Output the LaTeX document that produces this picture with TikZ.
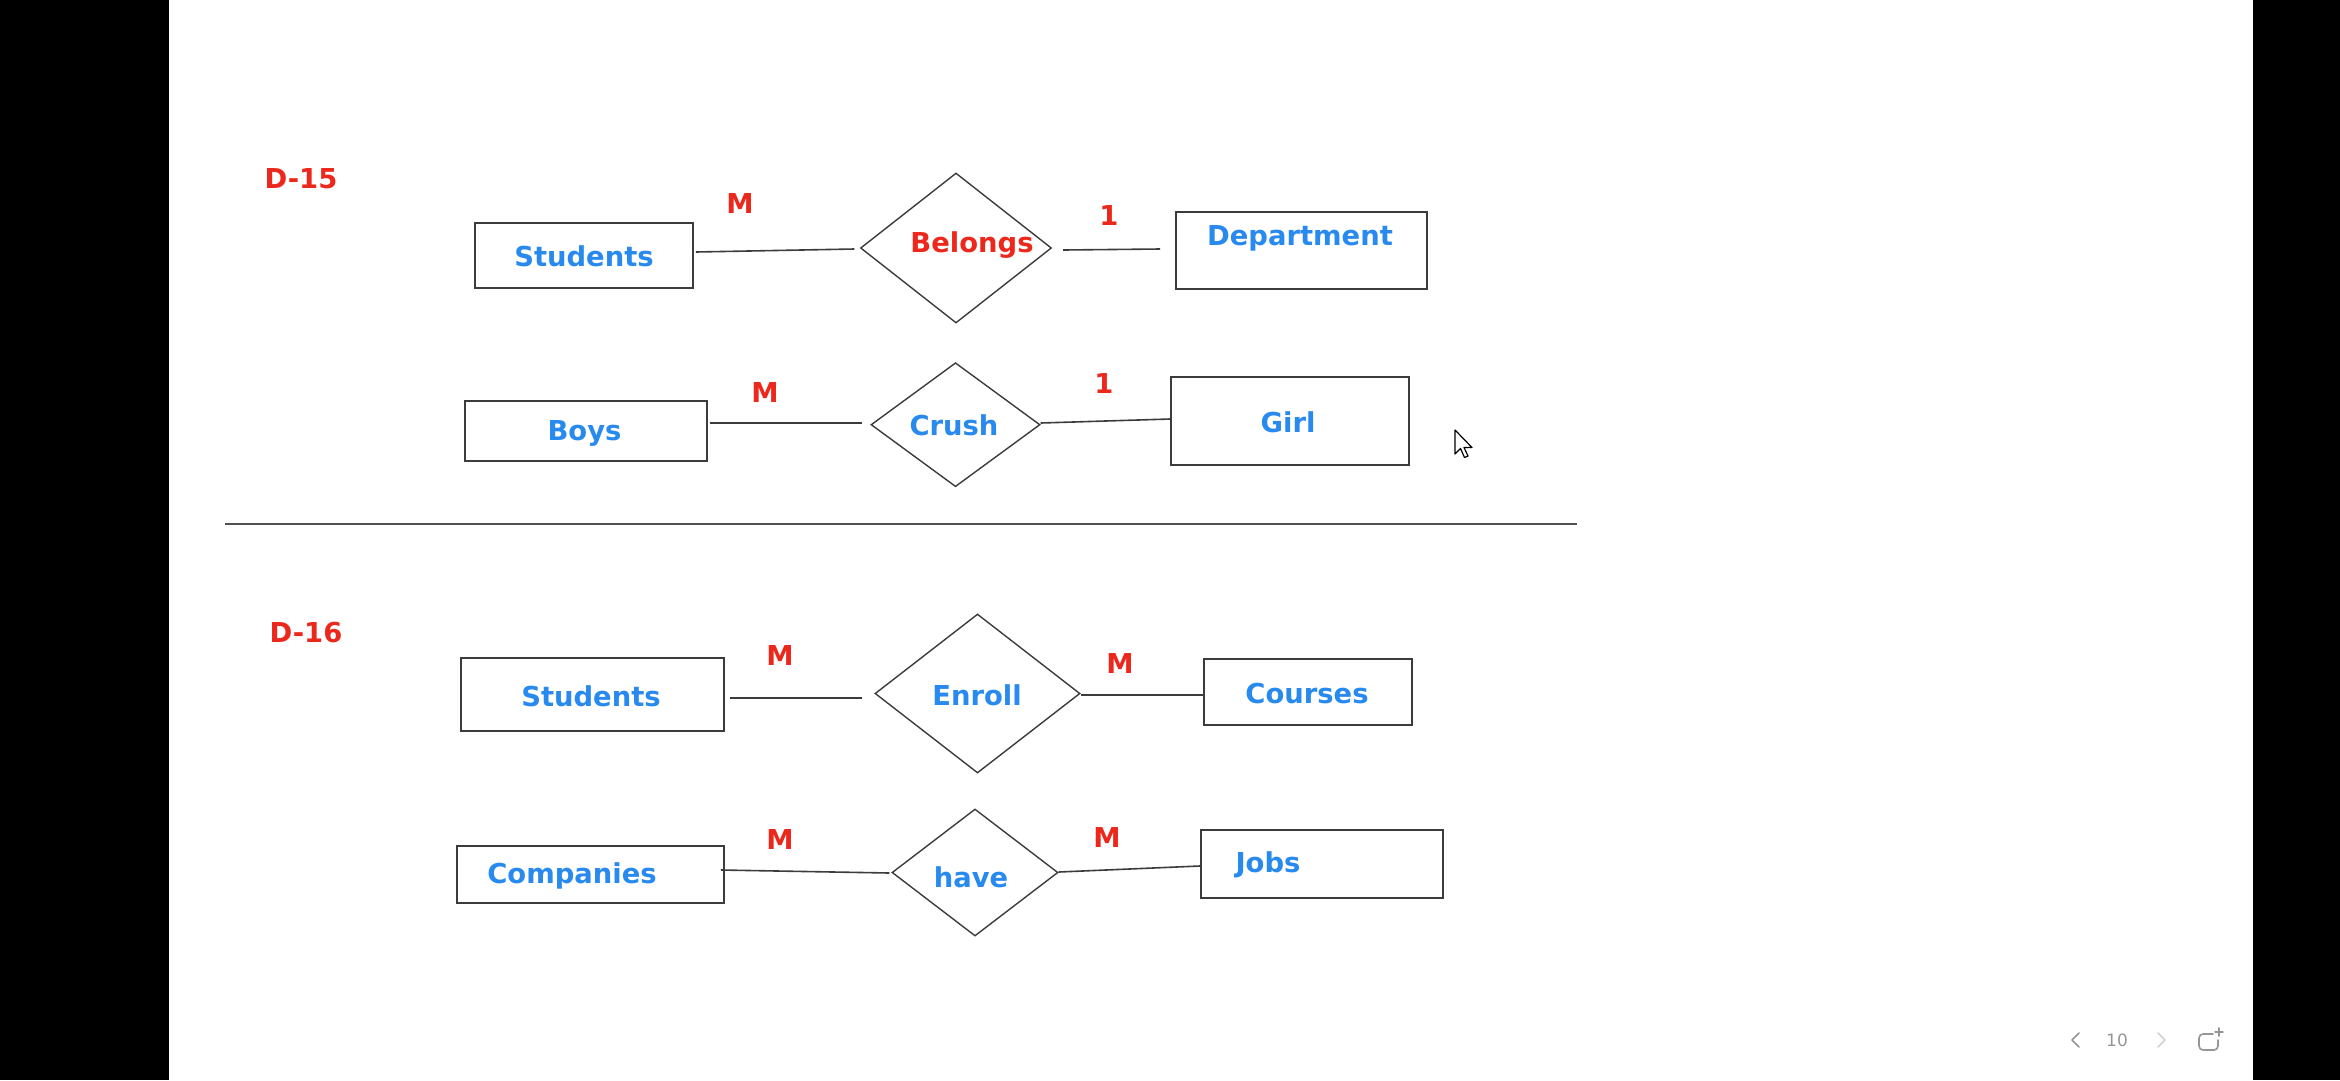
\documentclass[tikz,border=0pt]{standalone}
\usepackage{fontspec}
\setmainfont{DejaVu Sans}
\usetikzlibrary{shapes.geometric}
\definecolor{erblue}{RGB}{40,138,238}
\definecolor{erred}{RGB}{236,40,28}
\definecolor{edgegray}{RGB}{60,60,60}
\definecolor{navgray}{RGB}{150,150,150}
\definecolor{navlight}{RGB}{210,210,210}
\begin{document}
\begin{tikzpicture}[x=1pt,y=-1pt,
  ent/.style={draw=edgegray, line width=1.6pt, rectangle, inner sep=0pt},
  rel/.style={draw=edgegray, line width=1.4pt, diamond, inner sep=0pt},
  lbl/.style={font=\fontsize{27.4}{30}\selectfont\bfseries, anchor=base, inner sep=0pt},
  ename/.style={lbl, text=erblue},
  rname/.style={lbl, text=erred},
  card/.style={lbl, text=erred},
  conn/.style={draw=edgegray, line width=1.6pt},
  sep/.style={draw=edgegray!90, line width=1.6pt},
  navline/.style={line width=1.6pt, line cap=round, line join=round}
]
\useasboundingbox (0,0) rectangle (2340,1080);
\fill[white] (0,0) rectangle (2340,1080);
\fill[black] (0,0) rectangle (169,1080);
\fill[black] (2253,0) rectangle (2340,1080);

% ---------- D-15 ----------
\node[card] (d15) at (301,188) {D-15};

% Row 1
\node[ent, minimum width=218pt, minimum height=65pt] (stu1) at (584,255.5) {};
\node[ename] (tstu1) at (584,266) {Students};
\node[rel, minimum width=191pt, minimum height=150pt] (bel) at (956,248) {};
\node[rname] (tbel) at (972,252) {Belongs};
\node[ent, minimum width=251pt, minimum height=77pt] (dep) at (1301.5,250.5) {};
\node[ename] (tdep) at (1300,245) {Department};
\node[card] (m1) at (740,213) {M};
\node[card] (o1) at (1109,225) {1};
\draw[conn] ([xshift=2pt,yshift=3.5pt]stu1.east) -- ([xshift=-5.5pt,yshift=-1pt]bel.west);
\draw[conn] ([xshift=11pt,yshift=-2pt]bel.east) -- ([xshift=-15pt,yshift=1.5pt]dep.west);

% Row 2
\node[ent, minimum width=242pt, minimum height=60pt] (boys) at (586,431) {};
\node[ename] (tboys) at (584.5,440) {Boys};
\node[rel, minimum width=169pt, minimum height=124pt] (cru) at (955.5,424.7) {};
\node[ename] (tcru) at (954,435) {Crush};
\node[ent, minimum width=238pt, minimum height=88pt] (girl) at (1290,421) {};
\node[ename] (tgirl) at (1288,432) {Girl};
\node[card] (m2) at (765,402) {M};
\node[card] (o2) at (1104,393) {1};
\draw[conn] ([xshift=2pt,yshift=8pt]boys.east) -- ([xshift=-8pt,yshift=1.7pt]cru.west);
\draw[conn] ([yshift=1.7pt]cru.east) -- ([yshift=2pt]girl.west);

% Separator
\coordinate (sepL) at (225,524);
\coordinate (sepR) at (1577,524);
\draw[sep] (sepL) -- (sepR);

% ---------- D-16 ----------
\node[card] (d16) at (306,642) {D-16};

% Row 3
\node[ent, minimum width=263pt, minimum height=73pt] (stu2) at (592.5,694.5) {};
\node[ename] (tstu2) at (591,706) {Students};
\node[rel, minimum width=205pt, minimum height=159pt] (enr) at (977.5,693.5) {};
\node[ename] (tenr) at (977,705) {Enroll};
\node[ent, minimum width=207.5pt, minimum height=66pt] (cou) at (1308,692) {};
\node[ename] (tcou) at (1307,703) {Courses};
\node[card] (m3) at (780,665) {M};
\node[card] (m4) at (1120,673) {M};
\draw[conn] ([xshift=5pt,yshift=-3.5pt]stu2.east) -- ([xshift=-12pt,yshift=-4.5pt]enr.west);
\draw[conn] ([yshift=-1.5pt]enr.east) -- ([yshift=-3pt]cou.west);

% Row 4
\node[ent, minimum width=267pt, minimum height=57pt] (comp) at (590.5,874.5) {};
\node[ename] (tcomp) at (572,883) {Companies};
\node[rel, minimum width=166pt, minimum height=127pt] (have) at (975,872.5) {};
\node[ename] (thave) at (971,887) {have};
\node[ent, minimum width=242.5pt, minimum height=68pt] (jobs) at (1322,864) {};
\node[ename] (tjobs) at (1268,872) {Jobs};
\node[card] (m5) at (780,849) {M};
\node[card] (m6) at (1107,847) {M};
\draw[conn] ([xshift=-4pt,yshift=4.5pt]comp.east) -- ([xshift=-2pt,yshift=-0.5pt]have.west);
\draw[conn] ([yshift=0.5pt]have.east) -- ([yshift=-2pt]jobs.west);

% Mouse cursor
\draw[black, fill=white, line width=1.2pt, line join=round] (1455,430) -- ++(0,24) -- ++(5.5,-5.5) -- ++(4,9) -- ++(3.5,-1.5) -- ++(-4,-8.5) -- ++(8,0) -- cycle;

% Navigation bar
\draw[navline, draw=navgray] (2079,1033) -- (2072,1040) -- (2079,1047);
\node[font=\fontsize{17}{20}\selectfont, text=navgray, inner sep=0pt] (pgno) at (2117,1040) {10};
\draw[navline, draw=navlight] (2158,1033) -- (2165,1040) -- (2158,1047);
\draw[navline, draw=navgray, rounded corners=4pt] (2213,1034) -- (2199,1034) -- (2199,1050) -- (2218,1050) -- (2218,1040);
\draw[navline, draw=navgray] (2219,1028) -- (2219,1036);
\draw[navline, draw=navgray] (2215,1032) -- (2223,1032);
\end{tikzpicture}
\end{document}
